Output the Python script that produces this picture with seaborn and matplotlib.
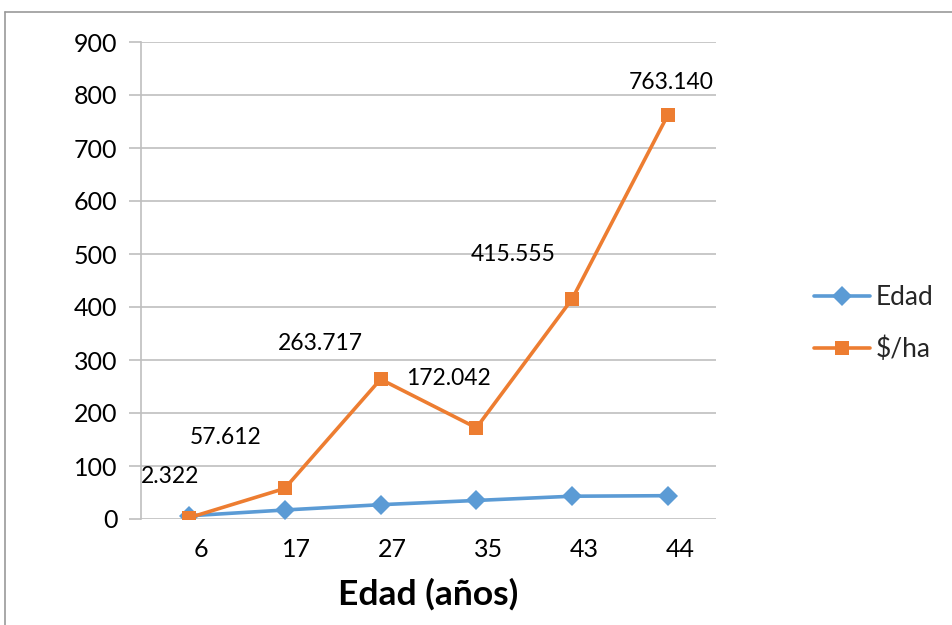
import matplotlib
matplotlib.use("Agg")
import matplotlib.pyplot as plt
from matplotlib.lines import Line2D
import seaborn as sns
import pandas as pd
import numpy as np

# Series data
categories = ["6", "17", "27", "35", "43", "44"]
edad = [6, 17, 27, 35, 43, 44]
precio_ha = [2.322, 57.612, 263.717, 172.042, 415.555, 763.140]
precio_labels = ["2.322", "57.612", "263.717", "172.042", "415.555", "763.140"]
series_names = ["Edad", "$/ha"]
y_ticks = [0, 100, 200, 300, 400, 500, 600, 700, 800, 900]

sns.set_theme(style="white")
plt.rcParams["font.family"] = ["Lato", "DejaVu Sans"]

BLUE = "#5B9BD5"
ORANGE = "#ED7D31"
GRID = "#BFBFBF"

pos = np.arange(len(categories))
df = pd.DataFrame({
    "pos": np.concatenate([pos, pos]),
    "valor": edad + precio_ha,
    "serie": [series_names[0]] * len(edad) + [series_names[1]] * len(precio_ha),
})

fig = plt.figure(figsize=(9.53, 6.25), dpi=100)
ax = fig.add_axes([141 / 953, 1 - 519 / 625, (716 - 141) / 953, (519 - 42) / 625])

sns.lineplot(
    data=df, x="pos", y="valor", hue="serie", style="serie",
    palette={series_names[0]: BLUE, series_names[1]: ORANGE},
    markers={series_names[0]: "D", series_names[1]: "s"},
    dashes=False, linewidth=2.6, markersize=10.5, markeredgewidth=0,
    ax=ax, legend=True,
)

# Data labels for $/ha
offsets = [(-19, 41), (-59, 51), (-60, 36), (-28, 49), (-59, 44), (3, 32)]
for i, (val, lab) in enumerate(zip(precio_ha, precio_labels)):
    dx, dy = offsets[i]
    ax.annotate(lab, (pos[i], val), xytext=(dx, dy), textcoords="offset pixels",
                ha="center", va="center", fontsize=16.5, color="black")

ax.set_xlim(-0.5, len(categories) - 0.5)
ax.set_ylim(0, 900)
ax.set_yticks(y_ticks)
ax.set_yticklabels([str(t) for t in y_ticks])
# category labels sit slightly right of their points
ax.set_xticks(pos + 0.125)
ax.set_xticklabels(categories)

ax.grid(axis="y", color=GRID, linewidth=1.2)
ax.set_axisbelow(True)
for side in ["top", "right", "bottom"]:
    ax.spines[side].set_visible(False)
ax.spines["left"].set_color(GRID)
ax.spines["left"].set_linewidth(1.2)
ax.tick_params(axis="y", which="major", length=9, width=1.2, color=GRID,
               labelsize=18, pad=8, left=True, labelcolor="black")
ax.tick_params(axis="x", length=0, labelsize=18, pad=14, labelcolor="black")

ax.set_ylabel("")
ax.set_xlabel("Edad (años)", fontsize=25.5, fontweight="bold", labelpad=12, color="black")

handles, labels = ax.get_legend_handles_labels()
leg = ax.legend(handles, labels, loc="center left", bbox_to_anchor=(1.13, 0.41),
                frameon=False, fontsize=19, handlelength=2.1, labelspacing=1.0,
                handletextpad=0.22)

# Outer chart frame (top and left edges)
fig.add_artist(Line2D([5 / 953, 1.0], [1 - 12 / 625, 1 - 12 / 625],
                      transform=fig.transFigure, color="#999999", linewidth=1.2))
fig.add_artist(Line2D([5 / 953, 5 / 953], [0.0, 1 - 12 / 625],
                      transform=fig.transFigure, color="#999999", linewidth=1.2))

fig.savefig("out.png", dpi=100, facecolor="white")
